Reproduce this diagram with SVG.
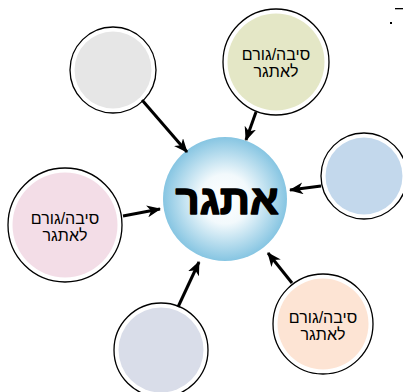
<svg xmlns="http://www.w3.org/2000/svg" width="403" height="392" viewBox="0 0 403 392">
<defs>
<radialGradient id="cg" cx="50%" cy="50%" r="50%">
<stop offset="0" stop-color="#ffffff"/>
<stop offset="0.4" stop-color="#f2f9fc"/>
<stop offset="1" stop-color="#86c5e2"/>
</radialGradient>
<marker id="ah" viewBox="0 0 14 12" refX="13" refY="6" markerWidth="14" markerHeight="12" markerUnits="userSpaceOnUse" orient="auto">
<path d="M0,0 L14,6 L0,12 L4,6 Z" fill="#000"/>
</marker>
</defs>
<style>
.ring{fill:#fff;stroke:#000;stroke-width:1.3}
.lbl{font-family:"Liberation Sans","DejaVu Sans",sans-serif;font-size:16px;text-anchor:middle;fill:#000}
.con{stroke:#000;stroke-width:3;fill:none;marker-end:url(#ah)}
.big{font-family:"Liberation Sans","DejaVu Sans",sans-serif;font-weight:bold;font-size:42px;text-anchor:middle;fill:#000;stroke:#000;stroke-width:1.6;stroke-linejoin:round}
</style>
<rect width="403" height="392" fill="#fff"/>
<rect x="395" y="8" width="8" height="1.3" fill="#000"/>
<rect x="390" y="22" width="2" height="2" fill="#000"/>
<g id="center">
<circle cx="225" cy="199" r="62" fill="url(#cg)"/>
<text class="big" x="227" y="214">אתגר</text>
</g>
<g id="n1">
<circle class="ring" cx="113" cy="70" r="43"/>
<circle cx="113" cy="70" r="38.5" fill="#e6e6e6"/>
</g>
<g id="n2">
<circle class="ring" cx="276" cy="62" r="53"/>
<circle cx="276" cy="62" r="48.5" fill="#e4e7c6"/>
<text class="lbl" x="276" y="60">סיבה/גורם</text>
<text class="lbl" x="276" y="77">לאתגר</text>
</g>
<g id="n3">
<circle class="ring" cx="364" cy="176" r="43"/>
<circle cx="364" cy="176" r="38.5" fill="#c3d8ec"/>
</g>
<g id="n4">
<circle class="ring" cx="65" cy="225" r="57"/>
<circle cx="65" cy="225" r="52.5" fill="#f3dde7"/>
<text class="lbl" x="65" y="224">סיבה/גורם</text>
<text class="lbl" x="65" y="241">לאתגר</text>
</g>
<g id="n5">
<circle class="ring" cx="323" cy="324" r="50"/>
<circle cx="323" cy="324" r="45.5" fill="#fde4d4"/>
<text class="lbl" x="323" y="323">סיבה/גורם</text>
<text class="lbl" x="323" y="340">לאתגר</text>
</g>
<g id="n6">
<circle class="ring" cx="161" cy="350" r="47"/>
<circle cx="161" cy="350" r="42.5" fill="#d9dde9"/>
</g>
<g id="connectors">
<line class="con" x1="142" y1="100" x2="187" y2="152"/>
<line class="con" x1="256" y1="112" x2="246" y2="140"/>
<line class="con" x1="321" y1="186" x2="290" y2="190"/>
<line class="con" x1="123" y1="216" x2="160" y2="209"/>
<line class="con" x1="292" y1="283" x2="268" y2="253"/>
<line class="con" x1="178" y1="307" x2="199" y2="262"/>
</g>
</svg>
